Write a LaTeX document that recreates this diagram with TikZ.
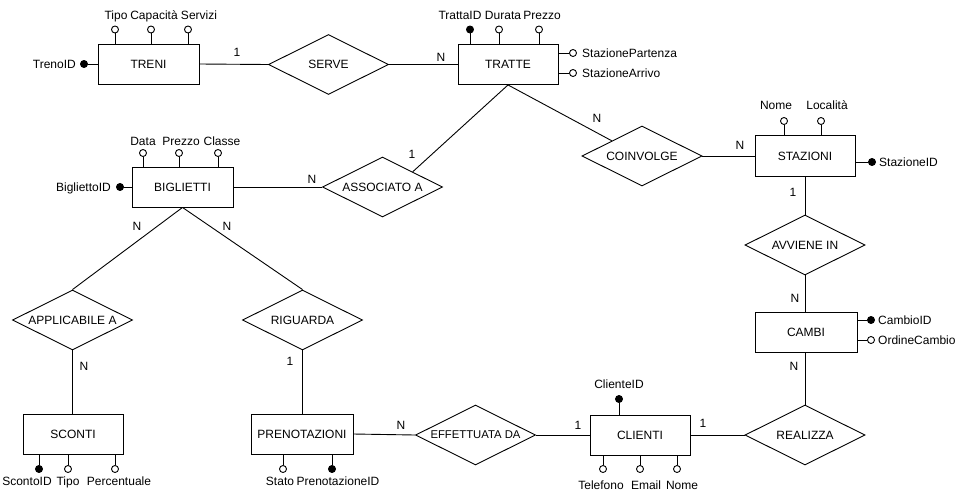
\documentclass[tikz,border=0pt]{standalone}
\usepackage{fontspec}
\setmainfont{Liberation Sans}
\usetikzlibrary{shapes.geometric,calc}
\newcommand\myfs{\fontsize{12}{14}\selectfont}
\newcommand\myfss{\fontsize{11.3}{14}\selectfont}
\tikzset{
  ent/.style={draw, rectangle, minimum width=100pt, minimum height=40pt, inner sep=0pt, font=\myfs, line width=0.9pt},
  rel/.style={draw, diamond, shape aspect=2, minimum width=120pt, minimum height=60pt, inner sep=0pt, font=\myfs, line width=0.9pt},
  lbl/.style={inner sep=0pt, font=\myfs, text height=8.6pt, text depth=0pt},
  attro/.style={circle, draw, fill=white, minimum size=7pt, inner sep=0pt, line width=0.9pt},
  attrk/.style={circle, draw, fill=black, minimum size=7pt, inner sep=0pt, line width=0.9pt},
  conn/.style={line width=0.9pt}
}
\begin{document}
\begin{tikzpicture}[x=1pt,y=-1pt]
\useasboundingbox[fill=white] (0,0) rectangle (955,496);
% entities
\node[ent, minimum width=101pt] (treni) at (148.5,64) {TRENI};
\node[ent] (tratte) at (508,64.5) {TRATTE};
\node[ent, minimum width=101pt] (biglietti) at (182.5,187) {BIGLIETTI};
\node[ent, minimum height=41pt] (stazioni) at (805,156) {STAZIONI};
\node[ent, minimum width=102pt] (cambi) at (806,332) {CAMBI};
\node[ent] (clienti) at (640,435) {CLIENTI};
\node[ent, minimum width=102pt] (prenotazioni) at (302,434) {PRENOTAZIONI};
\node[ent] (sconti) at (73,434) {SCONTI};
% relationships
\node[rel] (serve) at (328.5,64.5) {\makebox[0pt]{SERVE}};
\node[rel] (assoc) at (382.5,187) {\makebox[0pt]{ASSOCIATO A}};
\node[rel] (coinv) at (642,156) {\makebox[0pt]{COINVOLGE}};
\node[rel] (avviene) at (805,245) {\makebox[0pt]{AVVIENE IN}};
\node[rel] (realizza) at (805,435) {\makebox[0pt]{REALIZZA}};
\node[rel] (effettuata) at (475.5,435) {\makebox[0pt]{\myfss EFFETTUATA DA}};
\node[rel] (riguarda) at (302.5,320) {\makebox[0pt]{RIGUARDA}};
\node[rel] (applicabile) at (72.5,320) {\makebox[0pt]{APPLICABILE A}};
% connectors
\draw[conn] (treni.east) -- (serve.west);
\draw[conn] (serve.east) -- (tratte.west);
\draw[conn] (tratte.south) -- ($(assoc.north)!0.5!(assoc.east)$);
\draw[conn] (tratte.south) -- ($(coinv.north)!0.5!(coinv.west)$);
\draw[conn] (biglietti.east) -- (assoc.west);
\draw[conn] (coinv.east) -- (stazioni.west);
\draw[conn] (stazioni.south) -- (avviene.north);
\draw[conn] (avviene.south) -- (cambi.north -| avviene.south);
\draw[conn] (cambi.south -| realizza.north) -- (realizza.north);
\draw[conn] (realizza.west) -- (clienti.east);
\draw[conn] (clienti.west) -- (effettuata.east);
\draw[conn] (effettuata.west) -- (prenotazioni.east);
\draw[conn] (riguarda.south) -- (prenotazioni.north -| riguarda.south);
\draw[conn] (biglietti.south) -- (riguarda.north);
\draw[conn] (biglietti.south) -- (applicabile.north);
\draw[conn] (applicabile.south) -- (sconti.north -| applicabile.south);
% cardinalities
\node[lbl] (c1) at (237,52) {1};
\node[lbl] (c2) at (441,57) {N};
\node[lbl] (c3) at (412,154) {1};
\node[lbl] (c4) at (597,118) {N};
\node[lbl] (c5) at (312,179) {N};
\node[lbl] (c6) at (740,145) {N};
\node[lbl] (c7) at (793,192) {1};
\node[lbl] (c8) at (795,298) {N};
\node[lbl] (c9) at (794,366) {N};
\node[lbl] (c10) at (703,423) {1};
\node[lbl] (c11) at (578,425) {1};
\node[lbl] (c12) at (401,425) {N};
\node[lbl] (c13) at (290,361) {1};
\node[lbl] (c14) at (227,226) {N};
\node[lbl] (c15) at (137,226) {N};
\node[lbl] (c16) at (84,366) {N};
% TRENI attributes
\node[attro] (a-tipo) at (115,29.5) {};
\node[attro] (a-cap) at (151,29.5) {};
\node[attro] (a-serv) at (188,29.5) {};
\node[attrk] (a-trenoid) at (84,64) {};
\draw[conn] (a-tipo) -- (a-tipo |- treni.north);
\draw[conn] (a-cap) -- (a-cap |- treni.north);
\draw[conn] (a-serv) -- (a-serv |- treni.north);
\draw[conn] (a-trenoid) -- (a-trenoid -| treni.west);
\node[lbl] (t-tipo) at (116,15) {Tipo};
\node[lbl] (t-cap) at (154,15) {Capacità};
\node[lbl] (t-serv) at (199,15) {Servizi};
\node[lbl, anchor=east] (t-trenoid) at (76,64) {TrenoID};
% TRATTE attributes
\node[attrk] (a-trattaid) at (470,29.5) {};
\node[attro] (a-durata) at (499,29.5) {};
\node[attro] (a-prezzo1) at (539,29.5) {};
\node[attro] (a-spart) at (573,53) {};
\node[attro] (a-sarr) at (573,73) {};
\draw[conn] (a-trattaid) -- (a-trattaid |- tratte.north);
\draw[conn] (a-durata) -- (a-durata |- tratte.north);
\draw[conn] (a-prezzo1) -- (a-prezzo1 |- tratte.north);
\draw[conn] (a-spart) -- (a-spart -| tratte.east);
\draw[conn] (a-sarr) -- (a-sarr -| tratte.east);
\node[lbl] (t-trattaid) at (460,15) {TrattaID};
\node[lbl] (t-durata) at (503,15) {Durata};
\node[lbl] (t-prezzo1) at (542,15) {Prezzo};
\node[lbl, anchor=west] (t-spart) at (582,53) {StazionePartenza};
\node[lbl, anchor=west] (t-sarr) at (582,73) {StazioneArrivo};
% BIGLIETTI attributes
\node[attro] (a-data) at (143,153) {};
\node[attro] (a-prezzo2) at (179,153) {};
\node[attro] (a-classe) at (218,153) {};
\node[attrk] (a-bigid) at (120,187) {};
\draw[conn] (a-data) -- (a-data |- biglietti.north);
\draw[conn] (a-prezzo2) -- (a-prezzo2 |- biglietti.north);
\draw[conn] (a-classe) -- (a-classe |- biglietti.north);
\draw[conn] (a-bigid) -- (a-bigid -| biglietti.west);
\node[lbl] (t-data) at (143,141) {Data};
\node[lbl] (t-prezzo2) at (181,141) {Prezzo};
\node[lbl] (t-classe) at (222,141) {Classe};
\node[lbl, anchor=east] (t-bigid) at (111,187) {BigliettoID};
% STAZIONI attributes
\node[attro] (a-nome1) at (784,121) {};
\node[attro] (a-loc) at (821,121) {};
\node[attrk] (a-stazid) at (872,162) {};
\draw[conn] (a-nome1) -- (a-nome1 |- stazioni.north);
\draw[conn] (a-loc) -- (a-loc |- stazioni.north);
\draw[conn] (a-stazid) -- (a-stazid -| stazioni.east);
\node[lbl] (t-nome1) at (776,105) {Nome};
\node[lbl] (t-loc) at (827,105) {Località};
\node[lbl, anchor=west] (t-stazid) at (879,162) {StazioneID};
% CAMBI attributes
\node[attrk] (a-cambioid) at (871,320) {};
\node[attro] (a-ordine) at (871,340) {};
\draw[conn] (a-cambioid) -- (a-cambioid -| cambi.east);
\draw[conn] (a-ordine) -- (a-ordine -| cambi.east);
\node[lbl, anchor=west] (t-cambioid) at (878,320) {CambioID};
\node[lbl, anchor=west] (t-ordine) at (878,340) {OrdineCambio};
% CLIENTI attributes
\node[attrk] (a-clid) at (619,399) {};
\node[attro] (a-tel) at (603,469) {};
\node[attro] (a-email) at (640,469) {};
\node[attro] (a-nome2) at (677,469) {};
\draw[conn] (a-clid) -- (a-clid |- clienti.north);
\draw[conn] (a-tel) -- (a-tel |- clienti.south);
\draw[conn] (a-email) -- (a-email |- clienti.south);
\draw[conn] (a-nome2) -- (a-nome2 |- clienti.south);
\node[lbl] (t-clid) at (619,384) {ClienteID};
\node[lbl] (t-tel) at (601,485) {Telefono};
\node[lbl] (t-email) at (646,485) {Email};
\node[lbl] (t-nome2) at (682,485) {Nome};
% PRENOTAZIONI attributes
\node[attro] (a-stato) at (283,469) {};
\node[attrk] (a-prenid) at (332,469) {};
\draw[conn] (a-stato) -- (a-stato |- prenotazioni.south);
\draw[conn] (a-prenid) -- (a-prenid |- prenotazioni.south);
\node[lbl] (t-stato) at (280,481) {Stato};
\node[lbl] (t-prenid) at (338,481) {PrenotazioneID};
% SCONTI attributes
\node[attrk] (a-scid) at (39,469) {};
\node[attro] (a-tipo2) at (68,469) {};
\node[attro] (a-perc) at (115,469) {};
\draw[conn] (a-scid) -- (a-scid |- sconti.south);
\draw[conn] (a-tipo2) -- (a-tipo2 |- sconti.south);
\draw[conn] (a-perc) -- (a-perc |- sconti.south);
\node[lbl] (t-scid) at (27,481) {ScontoID};
\node[lbl] (t-tipo2) at (68,481) {Tipo};
\node[lbl] (t-perc) at (119,481) {Percentuale};
\end{tikzpicture}
\end{document}
